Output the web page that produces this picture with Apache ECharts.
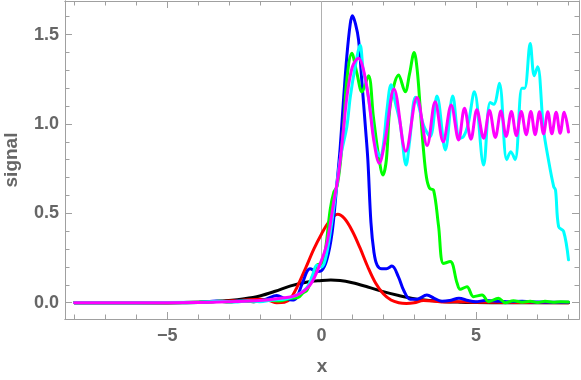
<!DOCTYPE html>
<html>
<head>
<meta charset="utf-8">
<script src="https://cdn.jsdelivr.net/npm/echarts@6/dist/echarts.min.js"></script>
<style>
html,body{margin:0;padding:0;background:#fff;}
#chart{width:581px;height:380px;}
</style>
</head>
<body>
<div id="chart"></div>
<script>
// ---- data ----
const xMajorTicks = [-5, 0, 5];
const xMinorTicks = [-8, -7, -6, -4, -3, -2, -1, 1, 2, 3, 4, 6, 7, 8];
const yMajorTicks = [0, 0.5, 1.0, 1.5];
const yMinorTicks = [-0.1, 0.1, 0.2, 0.3, 0.4, 0.6, 0.7, 0.8, 0.9, 1.1, 1.2, 1.3, 1.4, 1.6];

const blackPts = [[-8,0],[-6,0],[-5,0.0005],[-4,0.003],[-3.5,0.006],[-3,0.012],[-2.5,0.022],[-2,0.038],[-1.5,0.064],[-1,0.094],[-0.5,0.115],[0,0.124],[0.3,0.127],[0.6,0.125],[1,0.112],[1.5,0.088],[2,0.062],[2.5,0.04],[3,0.022],[3.5,0.012],[4,0.006],[4.5,0.003],[5,0.001],[6,0],[8,0]];

const redPts = [[-8,0],[-6,0],[-4,0.003],[-3,0.01],[-2.5,0.015],[-2,0.02],[-1.7,0.013],[-1.45,0.0],[-1.2,0.002],[-1.0,0.025],[-0.8,0.085],[-0.5,0.2],[-0.25,0.3],[0,0.385],[0.25,0.455],[0.52,0.495],[0.75,0.47],[1.0,0.40],[1.25,0.305],[1.5,0.2],[1.75,0.11],[2.0,0.05],[2.25,0.015],[2.5,0.0],[2.75,-0.004],[3.0,0.0],[3.3,0.012],[3.6,0.01],[4.0,0.004],[4.5,0.006],[5,0.003],[6,0.002],[8,0]];

const bluePts = [[-8,0],[-6,0],[-4,0.002],[-3.4,0.01],[-3,0.005],[-2.6,0.012],[-2.2,0.006],[-1.8,0.02],[-1.45,0.04],[-1.2,0.025],[-0.95,0.015],[-0.8,0.03],[-0.62,0.11],[-0.37,0.19],[-0.15,0.175],[0,0.18],[0.17,0.24],[0.34,0.39],[0.5,0.67],[0.6,0.86],[0.71,1.13],[0.82,1.38],[0.93,1.56],[1.0,1.605],[1.1,1.56],[1.2,1.47],[1.31,1.23],[1.42,0.985],[1.5,0.8],[1.6,0.45],[1.7,0.28],[1.8,0.21],[1.95,0.19],[2.1,0.19],[2.28,0.205],[2.49,0.145],[2.66,0.07],[2.87,0.02],[3.1,0.02],[3.41,0.043],[3.65,0.025],[3.9,0.008],[4.15,0.012],[4.45,0.025],[4.75,0.012],[5.0,0.006],[5.3,0.012],[5.6,0.01],[6.0,0.005],[6.5,0.008],[7,0.004],[8,0.003]];

const greenPts = [[-8,0],[-6,0],[-4,0.002],[-3.3,0.008],[-3,0.004],[-2.6,0.01],[-2.2,0.006],[-1.8,0.015],[-1.4,0.01],[-1.0,0.025],[-0.75,0.03],[-0.6,0.055],[-0.47,0.07],[-0.3,0.14],[-0.15,0.21],[0,0.22],[0.12,0.29],[0.28,0.52],[0.4,0.62],[0.5,0.65],[0.62,0.8],[0.72,1.0],[0.82,1.25],[0.98,1.395],[1.15,1.28],[1.31,1.18],[1.52,1.27],[1.68,1.04],[1.85,0.82],[1.99,0.715],[2.1,0.8],[2.23,1.11],[2.5,1.274],[2.71,1.18],[2.85,1.28],[3.0,1.40],[3.1,1.30],[3.2,1.08],[3.3,0.86],[3.4,0.70],[3.5,0.64],[3.63,0.63],[3.79,0.43],[3.95,0.22],[4.17,0.23],[4.39,0.11],[4.49,0.075],[4.71,0.09],[4.92,0.034],[5.2,0.043],[5.41,0.006],[5.73,0.025],[5.95,0.0],[6.22,0.011],[6.5,0.003],[6.76,0.008],[7.0,0.002],[7.24,0.008],[7.5,0.003],[7.75,0.006],[8,0.004]];

const cyanPts = [[-8,0],[-6,0],[-4,0.003],[-3.2,0.008],[-2.8,0.004],[-2.4,0.01],[-2.0,0.006],[-1.6,0.015],[-1.2,0.02],[-0.9,0.035],[-0.63,0.06],[-0.45,0.09],[-0.3,0.15],[-0.15,0.21],[0,0.2],[0.12,0.24],[0.28,0.39],[0.45,0.6],[0.62,0.82],[0.82,0.985],[0.93,1.15],[1.09,1.32],[1.25,1.44],[1.35,1.3],[1.47,1.2],[1.6,1.05],[1.75,0.87],[1.9,0.82],[2.0,0.88],[2.12,1.08],[2.25,1.22],[2.39,1.12],[2.55,1.0],[2.74,0.77],[2.85,0.9],[3.04,1.15],[3.15,1.1],[3.31,0.99],[3.52,0.93],[3.74,1.157],[4.01,0.855],[4.25,1.157],[4.47,0.92],[4.6,0.93],[4.75,1.0],[4.95,1.18],[5.25,0.77],[5.46,1.12],[5.58,1.11],[5.76,1.228],[6.0,0.80],[6.13,0.845],[6.27,0.8],[6.49,1.2],[6.58,1.2],[6.76,1.45],[6.89,1.27],[7.0,1.32],[7.19,0.97],[7.35,0.8],[7.52,0.65],[7.58,0.63],[7.68,0.425],[7.84,0.4],[8.0,0.24]];

const magentaPts = [[-8,0],[-6,0],[-4,0.002],[-3,0.006],[-2,0.012],[-1.34,0.025],[-0.8,0.043],[-0.37,0.1],[-0.04,0.22],[0.17,0.33],[0.39,0.56],[0.55,0.72],[0.7,0.95],[0.82,1.15],[1.0,1.32],[1.2,1.368],[1.35,1.31],[1.52,1.15],[1.7,0.9],[1.87,0.78],[2.05,0.9],[2.35,1.195],[2.73,0.848],[3.09,1.148],[3.42,0.88],[3.68,1.125],[3.94,0.9],[4.2,1.106],[4.44,0.91],[4.63,1.088],[4.84,0.915],[5.03,1.08],[5.25,0.92],[5.44,1.075],[5.63,0.925],[5.81,1.072],[5.98,0.93],[6.15,1.07],[6.31,0.935],[6.47,1.07],[6.63,0.94],[6.78,1.07],[6.92,0.94],[7.06,1.068],[7.19,0.945],[7.33,1.068],[7.46,0.945],[7.6,1.066],[7.73,0.948],[7.86,1.065],[8.0,0.955]];

// ---- chart ----
const xMin = -8.31, xMax = 8.34, yMin = -0.091, yMax = 1.688;
const frameColor = '#a0a0a0';
const textColor = '#666666';
const fontFamily = "'Liberation Sans', Arial, sans-serif";

function xAxisDef(pos, ticks, len, labels, name) {
  return {
    type: 'value', position: pos, min: xMin, max: xMax, gridIndex: 0,
    axisLine: { show: true, onZero: false, lineStyle: { color: frameColor, width: 1 } },
    axisTick: { show: true, inside: true, length: len, customValues: ticks, lineStyle: { color: frameColor, width: 1 } },
    axisLabel: labels ? {
      show: true, customValues: ticks, margin: 8, color: textColor, fontSize: 18, fontWeight: 'bold', fontFamily,
      formatter: v => (v < 0 ? '\u2212' + Math.abs(v) : String(v))
    } : { show: false },
    splitLine: { show: false },
    name: name || '', nameLocation: 'middle', nameGap: 38,
    nameTextStyle: { color: textColor, fontSize: 19, fontWeight: 'bold', fontFamily }
  };
}
function yAxisDef(pos, ticks, len, labels, name) {
  return {
    type: 'value', position: pos, min: yMin, max: yMax, gridIndex: 0,
    axisLine: { show: true, onZero: false, lineStyle: { color: frameColor, width: 1 } },
    axisTick: { show: true, inside: true, length: len, customValues: ticks, lineStyle: { color: frameColor, width: 1 } },
    axisLabel: labels ? {
      show: true, customValues: ticks, margin: 6, color: textColor, fontSize: 18, fontWeight: 'bold', fontFamily,
      formatter: v => v.toFixed(1)
    } : { show: false },
    splitLine: { show: false },
    name: name || '', nameLocation: 'middle', nameGap: 44, nameRotate: 90,
    nameTextStyle: { color: textColor, fontSize: 19, fontWeight: 'bold', fontFamily }
  };
}

function lineSeries(name, pts, color, z) {
  return {
    name, type: 'line', data: pts, xAxisIndex: 0, yAxisIndex: 0,
    smooth: 0.35, showSymbol: false, symbol: 'none',
    lineStyle: { color, width: 3, join: 'round', cap: 'round' }, z, silent: true, animation: false, clip: true
  };
}

const chart = echarts.init(document.getElementById('chart'), null, { renderer: 'canvas' });
const series = [
  lineSeries('black', blackPts, '#000000', 2),
  lineSeries('red', redPts, '#ff0000', 3),
  lineSeries('blue', bluePts, '#0000ff', 4),
  lineSeries('green', greenPts, '#00ff00', 5),
  lineSeries('cyan', cyanPts, '#00ffff', 6),
  lineSeries('magenta', magentaPts, '#ff00ff', 7)
];
series[0].markLine = {
  silent: true, symbol: 'none', animation: false,
  label: { show: false },
  lineStyle: { color: '#b0b0b0', width: 1, type: 'solid' },
  data: [{ xAxis: 0 }],
  z: 1
};

chart.setOption({
  animation: false,
  backgroundColor: '#ffffff',
  grid: { left: 65, right: 2, top: 1, bottom: 61, containLabel: false, outerBoundsMode: 'none' },
  xAxis: [
    xAxisDef('bottom', xMajorTicks, 7, true, 'x'),
    xAxisDef('bottom', xMinorTicks, 4.5, false),
    xAxisDef('top', xMajorTicks, 7, false),
    xAxisDef('top', xMinorTicks, 4.5, false)
  ],
  yAxis: [
    yAxisDef('left', yMajorTicks, 7, true, 'signal'),
    yAxisDef('left', yMinorTicks, 4.5, false),
    yAxisDef('right', yMajorTicks, 7, false),
    yAxisDef('right', yMinorTicks, 4.5, false)
  ],
  series
});
</script>
</body>
</html>
